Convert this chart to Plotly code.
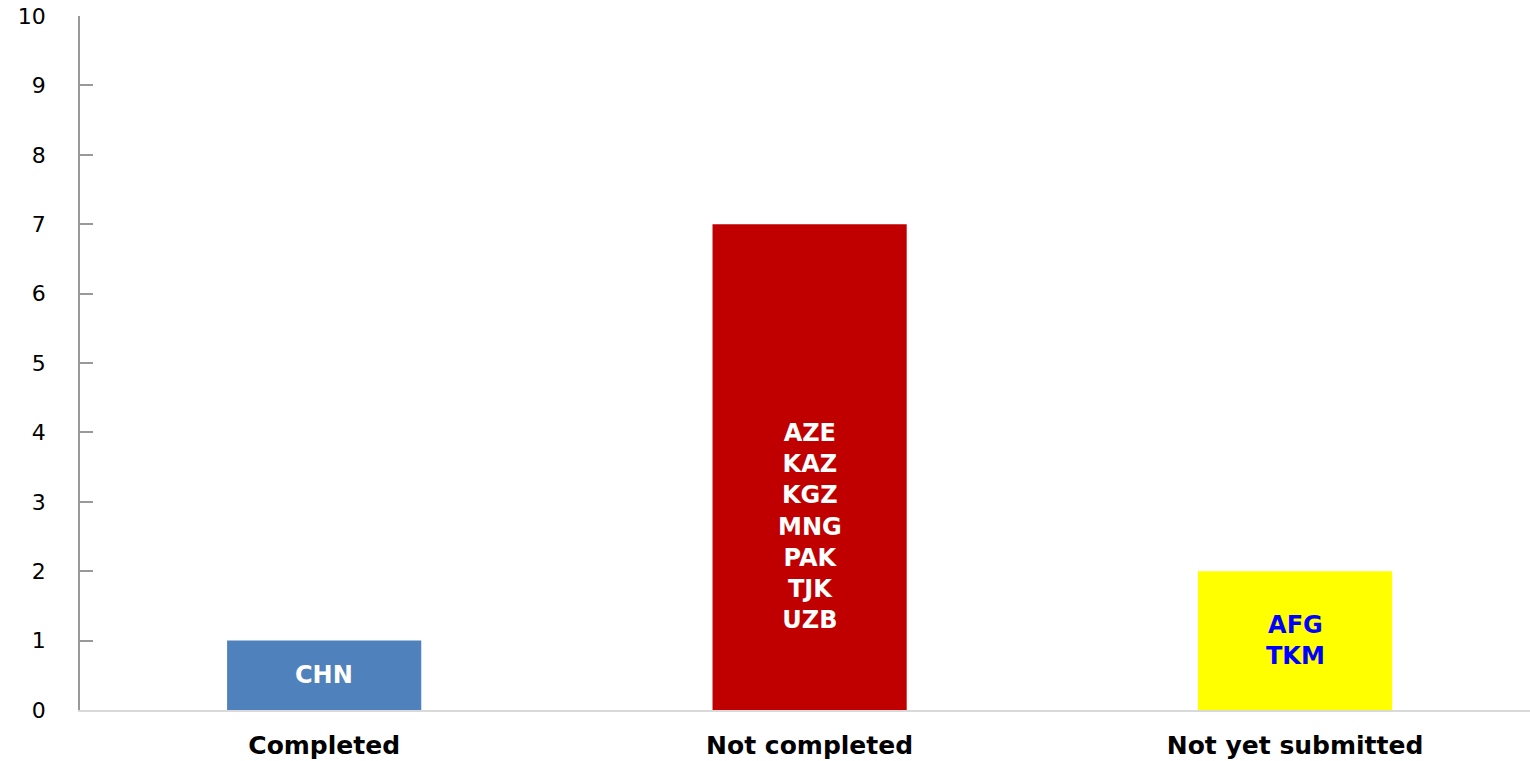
import plotly.graph_objects as go

categories = ["Completed", "Not completed", "Not yet submitted"]
counts = [1, 7, 2]
countries = [["CHN"], ["AZE", "KAZ", "KGZ", "MNG", "PAK", "TJK", "UZB"], ["AFG", "TKM"]]
y_ticks = list(range(0, 11))

bar_colors = ["#4F81BD", "#C00000", "#FFFF00"]
text_colors = ["#FFFFFF", "#FFFFFF", "#0000FF"]
label_offset = [0.0, -0.85, 0.0]  # vertical shift of label centre from bar mid (style)

fig = go.Figure()
fig.add_trace(go.Bar(
    x=list(range(len(categories))), y=counts,
    marker=dict(color=bar_colors, line=dict(width=0)),
    width=0.4, hoverinfo="skip",
))

for i, (c, names) in enumerate(zip(counts, countries)):
    fig.add_annotation(
        x=i, y=c / 2 + label_offset[i], xref="x", yref="y",
        text="<br>".join(f"<b>{n}</b>" for n in names),
        showarrow=False, align="center",
        font=dict(family="DejaVu Sans", size=24, color=text_colors[i]),
    )

fig.update_layout(
    width=1530, height=761,
    margin=dict(l=80, r=0, t=16, b=51),
    plot_bgcolor="white", paper_bgcolor="white",
    showlegend=False,
    xaxis=dict(
        tickmode="array", tickvals=list(range(len(categories))),
        ticktext=[f"<b>{c}</b>" for c in categories],
        range=[-0.503, 2.484],
        showline=True, linecolor="#D9D9D9", linewidth=2,
        showgrid=False, zeroline=False, ticks="",
        tickfont=dict(family="DejaVu Sans", size=25, color="#000000"),
        ticklabelstandoff=12,
    ),
    yaxis=dict(
        range=[0, 10], tickmode="array", tickvals=y_ticks,
        showline=True, linecolor="#999999", linewidth=1.5,
        ticks="inside", ticklen=13, tickcolor="#999999", tickwidth=1.5,
        showgrid=False, zeroline=False,
        tickfont=dict(family="DejaVu Sans", size=22, color="#000000"),
        ticklabelstandoff=28,
    ),
)

fig.write_html("out.html")
